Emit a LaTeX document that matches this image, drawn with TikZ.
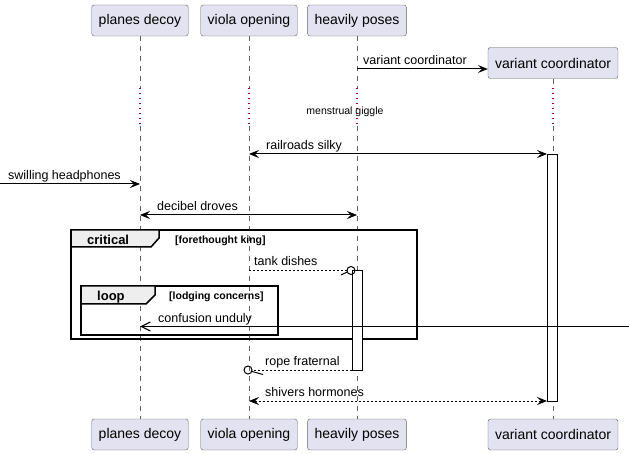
\documentclass[tikz,border=0pt]{standalone}
\usepackage{fontspec}
\setmainfont{Liberation Sans}
\usepackage{xcolor}
\usetikzlibrary{arrows.meta}

\definecolor{partfill}{HTML}{E2E2F0}
\definecolor{partline}{HTML}{5F5F5F}
\definecolor{delaycol}{HTML}{A80036}
\definecolor{tabfill}{HTML}{EEEEEE}

\begin{document}
\begin{tikzpicture}[x=1pt, y=-1pt,
  part/.style={draw=partline, fill=partfill, rounded corners=2.5pt, minimum height=31pt,
    inner xsep=7pt, font=\fontsize{14}{16}\selectfont},
  life/.style={draw=partline, line width=0.6pt, dash pattern=on 5pt off 5pt},
  delay/.style={draw=delaycol, line width=1.1pt, dash pattern=on 1.2pt off 3.8pt},
  msg/.style={font=\fontsize{12.5}{15}\selectfont, anchor=base west, inner sep=0pt},
  fhead/.style={line width=1pt, -{Stealth[length=10pt, width=8pt, inset=4pt]}},
  bhead/.style={line width=1pt, {Stealth[length=10pt, width=8pt, inset=4pt]}-{Stealth[length=10pt, width=8pt, inset=4pt]}},
  ohead/.style={line width=1pt, -{Straight Barb[length=9pt, width=9pt, line width=1.2pt]}},
  ret/.style={line width=1pt, dash pattern=on 2pt off 2pt},
  act/.style={draw, fill=white, line width=0.9pt},
  frame/.style={draw, line width=1.5pt},
  tab/.style={draw, fill=tabfill, line width=1.5pt},
  grp/.style={font=\bfseries\fontsize{13}{15}\selectfont, anchor=base west, inner sep=0pt},
  grd/.style={font=\bfseries\fontsize{10.5}{13}\selectfont, anchor=base west, inner sep=0pt}]

  \useasboundingbox (0,0) rectangle (629,454);

  % participants, top and bottom
  \node[part] (pdT) at (140,20.5) {planes decoy};
  \node[part] (voT) at (249,20.5) {viola opening};
  \node[part] (hpT) at (357,20.5) {heavily poses};
  \node[part] (vcT) at (553,63) {variant coordinator};
  \node[part] (pdB) at (140,434.5) {planes decoy};
  \node[part] (voB) at (249,434.5) {viola opening};
  \node[part] (hpB) at (357,434.5) {heavily poses};
  \node[part] (vcB) at (553,434.5) {variant coordinator};

  % lifelines with the delay
  \foreach \p in {pd,vo,hp,vc} {
    \draw[life] (\p T.south) -- (\p T |- 0,88);
    \draw[delay] (\p T |- 0,88) -- (\p T |- 0,126);
    \draw[life] (\p T |- 0,126) -- (\p B.north);
  }
  \node[font=\fontsize{10.5}{12}\selectfont] (giggle) at (345,112) {menstrual giggle};

  % frames
  \draw[frame] (71,230) rectangle (417,339);
  \draw[tab] (71,230) -- (159,230) -- (159,238) -- (151,247) -- (71,247) -- cycle;
  \node[grp] (crit) at (87,244.5) {critical};
  \node[grd] (critg) at (175,244) {[forethought king]};
  \draw[frame] (81,286) rectangle (278,335);
  \draw[tab] (81,286) -- (155,286) -- (155,295) -- (146,304) -- (81,304) -- cycle;
  \node[grp] (lp) at (97,300.5) {loop};
  \node[grd] (lpg) at (169,300) {[lodging concerns]};

  % activations
  \draw[act] (547,154) rectangle (557,401);
  \draw[act] (352,270) rectangle (362,370);
  \coordinate (edgeL) at (0,184);
  \coordinate (edgeR) at (629,326.5);

  % messages
  \draw[fhead] (hpT |- 0,69) -- (vcT.west |- 0,69);
  \node[msg] (m1) at (363,65) {variant coordinator};
  \draw[bhead] (voT |- 0,154) -- (547,154);
  \node[msg] (m2) at (266,150) {railroads silky};
  \draw[fhead] (edgeL) -- (pdT |- edgeL);
  \node[msg] (m3) at (8,180) {swilling headphones};
  \draw[bhead] (pdT |- 0,215) -- (hpT |- 0,215);
  \node[msg] (m4) at (157,210.5) {decibel droves};

  \draw[ret] (voT |- 0,270.5) -- (347,270.5);
  \draw[line width=1pt] (347.2,272) -- (341,275);
  \draw[line width=1pt] (351,270.5) circle (4pt);
  \node[msg] (m5) at (254,266) {tank dishes};

  \draw[ohead] (edgeR) -- (pdT |- edgeR);
  \node[msg] (m6) at (158,322) {confusion unduly};

  \draw[ret] (352,370) -- (252,370);
  \draw[line width=1pt] (252,371.5) -- (263,374.5);
  \draw[line width=1pt] (248,370) circle (4pt);
  \node[msg] (m7) at (265,365.5) {rope fraternal};

  \draw[ret, bhead] (voT |- 0,401) -- (547,401);
  \node[msg] (m8) at (265,396) {shivers hormones};
\end{tikzpicture}
\end{document}
